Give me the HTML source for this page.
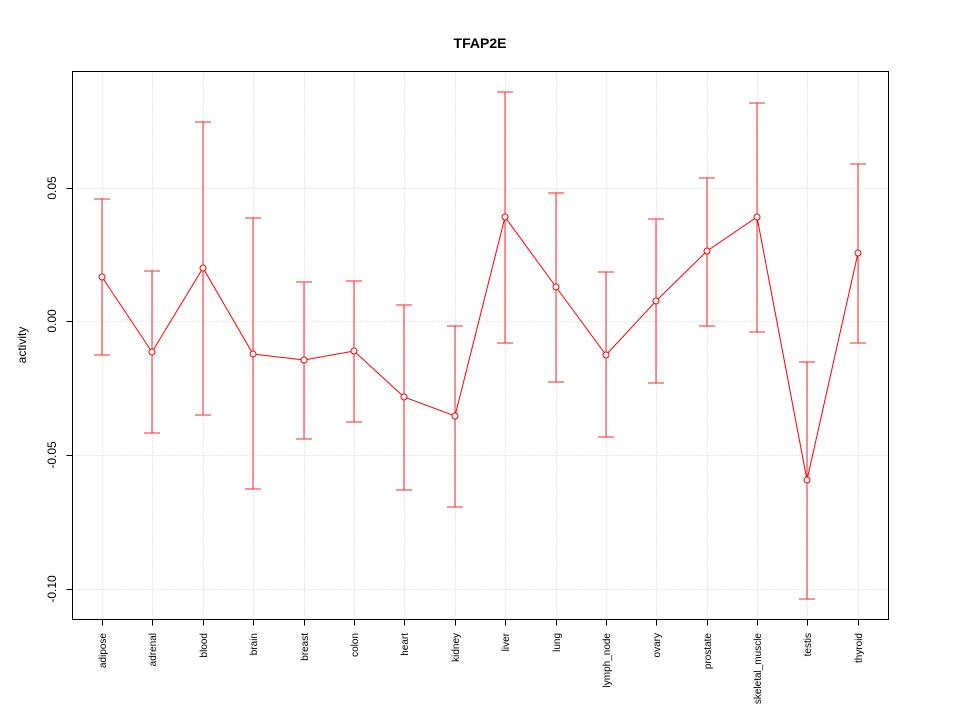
<!DOCTYPE html>
<html><head><style>body{margin:0;background:#fff}</style></head><body>
<svg width="960" height="720" xmlns="http://www.w3.org/2000/svg" font-family="Liberation Sans, sans-serif">
<rect width="960" height="720" fill="#fff"/>
<text x="480" y="48" text-anchor="middle" font-size="14" font-weight="bold">TFAP2E</text>
<g stroke="#d3d3d3" stroke-dasharray="1,2" stroke-width="1" transform="translate(0.5,0.5)">
<line x1="72" x2="888" y1="188" y2="188"/><line x1="72" x2="888" y1="321" y2="321"/><line x1="72" x2="888" y1="455" y2="455"/><line x1="72" x2="888" y1="589" y2="589"/>
<line x1="102" x2="102" y1="71" y2="619"/><line x1="152" x2="152" y1="71" y2="619"/><line x1="203" x2="203" y1="71" y2="619"/><line x1="253" x2="253" y1="71" y2="619"/><line x1="304" x2="304" y1="71" y2="619"/><line x1="354" x2="354" y1="71" y2="619"/><line x1="404" x2="404" y1="71" y2="619"/><line x1="455" x2="455" y1="71" y2="619"/><line x1="505" x2="505" y1="71" y2="619"/><line x1="556" x2="556" y1="71" y2="619"/><line x1="606" x2="606" y1="71" y2="619"/><line x1="656" x2="656" y1="71" y2="619"/><line x1="707" x2="707" y1="71" y2="619"/><line x1="757" x2="757" y1="71" y2="619"/><line x1="807" x2="807" y1="71" y2="619"/><line x1="858" x2="858" y1="71" y2="619"/>
</g>
<g transform="translate(0.5,0.5)">
<rect x="72" y="71" width="816" height="548" fill="none" stroke="#000"/>
<g stroke="#000">
<line x1="72" x2="66" y1="188" y2="188"/><line x1="72" x2="66" y1="321" y2="321"/><line x1="72" x2="66" y1="455" y2="455"/><line x1="72" x2="66" y1="589" y2="589"/>
<line x1="102" x2="102" y1="619" y2="625"/><line x1="152" x2="152" y1="619" y2="625"/><line x1="203" x2="203" y1="619" y2="625"/><line x1="253" x2="253" y1="619" y2="625"/><line x1="304" x2="304" y1="619" y2="625"/><line x1="354" x2="354" y1="619" y2="625"/><line x1="404" x2="404" y1="619" y2="625"/><line x1="455" x2="455" y1="619" y2="625"/><line x1="505" x2="505" y1="619" y2="625"/><line x1="556" x2="556" y1="619" y2="625"/><line x1="606" x2="606" y1="619" y2="625"/><line x1="656" x2="656" y1="619" y2="625"/><line x1="707" x2="707" y1="619" y2="625"/><line x1="757" x2="757" y1="619" y2="625"/><line x1="807" x2="807" y1="619" y2="625"/><line x1="858" x2="858" y1="619" y2="625"/>
</g>
</g>
<g font-size="12" text-anchor="middle">
<text transform="translate(56,188) rotate(-90)">0.05</text>
<text transform="translate(56,321) rotate(-90)">0.00</text>
<text transform="translate(56,455) rotate(-90)">-0.05</text>
<text transform="translate(56,589) rotate(-90)">-0.10</text>
<text transform="translate(26,345) rotate(-90)">activity</text>
</g>
<g font-size="10" text-anchor="end">
<text transform="translate(106,633) rotate(-90)">adipose</text>
<text transform="translate(156,633) rotate(-90)">adrenal</text>
<text transform="translate(207,633) rotate(-90)">blood</text>
<text transform="translate(257,633) rotate(-90)">brain</text>
<text transform="translate(308,633) rotate(-90)">breast</text>
<text transform="translate(358,633) rotate(-90)">colon</text>
<text transform="translate(408,633) rotate(-90)">heart</text>
<text transform="translate(459,633) rotate(-90)">kidney</text>
<text transform="translate(509,633) rotate(-90)">liver</text>
<text transform="translate(560,633) rotate(-90)">lung</text>
<text transform="translate(610,633) rotate(-90)">lymph_node</text>
<text transform="translate(660,633) rotate(-90)">ovary</text>
<text transform="translate(711,633) rotate(-90)">prostate</text>
<text transform="translate(761,633) rotate(-90)">skeletal_muscle</text>
<text transform="translate(811,633) rotate(-90)">testis</text>
<text transform="translate(862,633) rotate(-90)">thyroid</text>
</g>
<g stroke="#f00" fill="none" stroke-width="1">
<g stroke-opacity="0.85">
<path d="M102 199V355M94 199H110M94 355H110"/>
<path d="M152 271V433M144 271H160M144 433H160"/>
<path d="M203 122V415M195 122H211M195 415H211"/>
<path d="M253 218V489M245 218H261M245 489H261"/>
<path d="M304 282V439M296 282H312M296 439H312"/>
<path d="M354 281V422M346 281H362M346 422H362"/>
<path d="M404 305V490M396 305H412M396 490H412"/>
<path d="M455 326V507M447 326H463M447 507H463"/>
<path d="M505 92V343M497 92H513M497 343H513"/>
<path d="M556 193V382M548 193H564M548 382H564"/>
<path d="M606 272V437M598 272H614M598 437H614"/>
<path d="M656 219V383M648 219H664M648 383H664"/>
<path d="M707 178V326M699 178H715M699 326H715"/>
<path d="M757 103V332M749 103H765M749 332H765"/>
<path d="M807 362V599M799 362H815M799 599H815"/>
<path d="M858 164V343M850 164H866M850 343H866"/>
</g>
<polyline points="102,277 152,352 203,268 253,354 304,360 354,351 404,397 455,416 505,217 556,287 606,355 656,301 707,251 757,217 807,480 858,253"/>
<g fill="#fff">
<circle cx="102" cy="277" r="3"/><circle cx="152" cy="352" r="3"/><circle cx="203" cy="268" r="3"/><circle cx="253" cy="354" r="3"/><circle cx="304" cy="360" r="3"/><circle cx="354" cy="351" r="3"/><circle cx="404" cy="397" r="3"/><circle cx="455" cy="416" r="3"/><circle cx="505" cy="217" r="3"/><circle cx="556" cy="287" r="3"/><circle cx="606" cy="355" r="3"/><circle cx="656" cy="301" r="3"/><circle cx="707" cy="251" r="3"/><circle cx="757" cy="217" r="3"/><circle cx="807" cy="480" r="3"/><circle cx="858" cy="253" r="3"/>
</g>
</g>
</svg>
</body></html>
